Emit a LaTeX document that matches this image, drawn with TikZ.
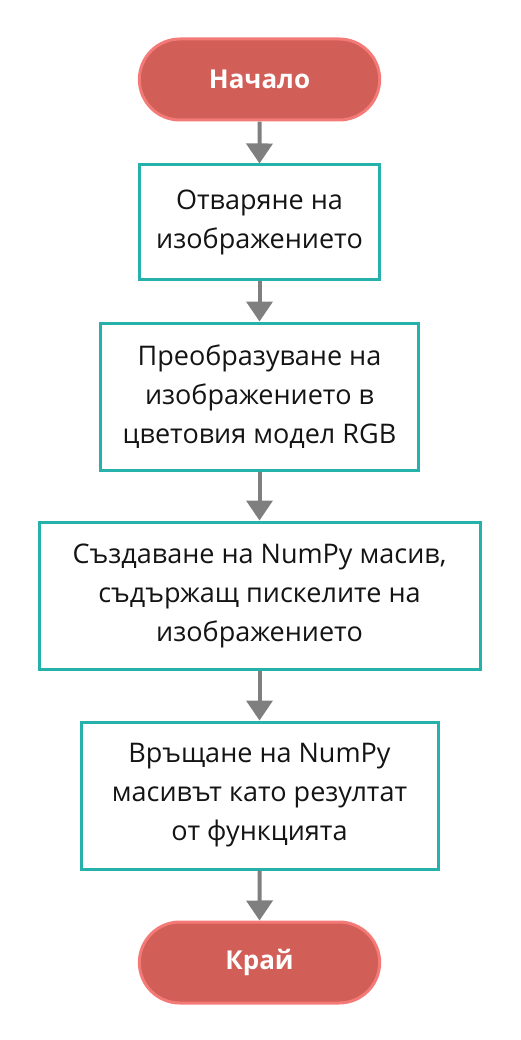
\documentclass[tikz,border=0pt]{standalone}
\usepackage{fontspec}
\setmainfont{Open Sans}
\usetikzlibrary{arrows.meta,positioning,shapes.misc}
\definecolor{pillred}{RGB}{210, 94, 88}
\definecolor{pillborder}{RGB}{244, 122, 119}
\definecolor{boxteal}{RGB}{38, 177, 170}
\definecolor{arrowgray}{RGB}{127, 127, 127}
\definecolor{fontdark}{RGB}{20, 20, 20}

\begin{document}
\begin{tikzpicture}[x=1pt, y=1pt, >={Triangle[length=20pt, width=26pt]},
			terminal/.style={draw=pillborder, fill=pillred, rounded rectangle, line width=3pt, minimum width=247pt, minimum height=81pt, text=white, font=\fontsize{26}{30}\selectfont\bfseries},
			process/.style={draw=boxteal, fill=white, rectangle, line width=3pt, align=center, text=fontdark, font=\fontsize{27}{39}\selectfont},
			flowLine/.style={line width=4pt, ->, color=arrowgray, shorten >=0pt}
			]
			\useasboundingbox (0,0) rectangle (520,-1040);
			
			\node[terminal](start) at (259.5,-79.5) {Начало};
			\node[process, minimum width=240pt, minimum height=115pt](open) [below = 42pt of start] {Отваряне на\\изображението};
			\node[process, minimum width=318pt, minimum height=147pt](convert) [below = 40pt of open] {Преобразуване на\\изображението в\\цветовия модел RGB};
			\node[process, minimum width=441pt, minimum height=147pt](array) [below = 49pt of convert] {Създаване на NumPy масив,\\съдържащ пискелите на\\изображението};
			\node[process, minimum width=357pt, minimum height=147pt](result) [below = 50pt of array] {Връщане на NumPy\\масивът като резултат\\от функцията};
			\node[terminal](stop) [below = 50pt of result] {Край};
			
			\draw [flowLine] (start) to (open);
			\draw [flowLine] (open) to (convert);
			\draw [flowLine] (convert) to (array);
			\draw [flowLine] (array) to (result);
			\draw [flowLine] (result) to (stop);
			
\end{tikzpicture}
\end{document}
